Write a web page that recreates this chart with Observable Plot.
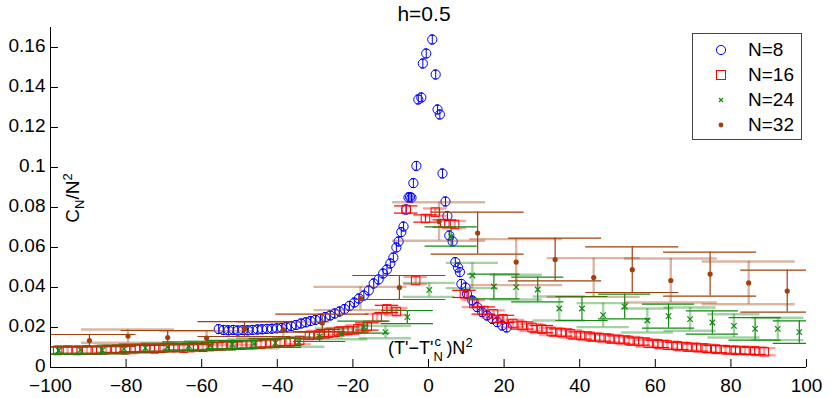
<!DOCTYPE html>
<html>
<head>
<meta charset="utf-8">
<script src="https://cdn.jsdelivr.net/npm/d3@7"></script>
<script src="https://cdn.jsdelivr.net/npm/@observablehq/plot@0.6"></script>
<style>
  html, body { margin: 0; padding: 0; background: #fff; }
  #wrap { position: relative; width: 831px; height: 398px; font-family: "Liberation Sans", Arial, Helvetica, sans-serif; color: #000; }
  #title { position: absolute; left: 0; width: 848px; top: 2px; text-align: center; font-size: 21px; line-height: 24px; }
  #ylab { position: absolute; left: 73px; top: 198px; font-size: 19px; transform: translate(-50%, -50%) rotate(-90deg); white-space: nowrap; }
  #xlab { position: absolute; left: 388px; top: 333px; font-size: 18px; white-space: nowrap; line-height: 20px; }
  #legend { position: absolute; left: 692px; top: 33px; width: 108px; height: 105px; border: 1px solid #444; background: #fff; font-size: 19px; }
  .row { position: absolute; left: 0; height: 24px; line-height: 24px; }
  .row svg { position: absolute; left: 20px; top: 4px; }
  .row span { position: absolute; left: 55px; top: 0; white-space: nowrap; }
  sub, sup { font-size: 13px; }
</style>
</head>
<body>
<div id="wrap">
  <div id="chart"></div>
  <div id="title">h=0.5</div>
  <div id="ylab">C<sub style="vertical-align:-5px">N</sub>/N<sup style="vertical-align:7px">2</sup></div>
  <div id="xlab">(T'−T'<span style="display:inline-block;position:relative;width:13px;height:10px;"><span style="position:absolute;left:1px;top:-12px;font-size:13px;">c</span><span style="position:absolute;left:0;top:3px;font-size:13px;">N</span></span>)N<sup style="vertical-align:7px">2</sup></div>
  <div id="legend"></div>
</div>
<script>
// ---------- data ----------
const seriesNames = ["N=8", "N=16", "N=24", "N=32"];
const seriesColors = ["#0000ff", "#ff0000", "#118a11", "#a0400c"];

const blueX = [-55.5,-54.2,-52.9,-51.6,-50.4,-49.1,-47.8,-46.5,-45.2,-44.0,-42.7,-41.4,-40.1,-38.8,-37.6,-36.3,-35.0,-33.7,-32.4,-31.2,-29.9,-28.6,-27.3,-26.0,-24.8,-23.5,-22.2,-20.9,-19.6,-18.4,-17.1,-15.8,-14.5,-13.2,-12.0,-11.0,-10.1,-9.3,-8.5,-7.9,-7.2,-6.6,-5.9,-5.3,-4.9,-4.5,-4.0,-3.2,-2.7,-1.9,-1.5,-0.6,1.0,1.9,2.4,3.0,3.7,4.5,5.0,5.5,6.4,7.1,7.8,8.3,8.7,9.8,10.2,11.6,12.9,14.2,15.5,16.9,18.2,19.5,20.7];
const blueY = [0.0192,0.0188,0.0186,0.0188,0.0185,0.0187,0.0186,0.0188,0.0190,0.0191,0.0193,0.0194,0.0196,0.0198,0.0202,0.0207,0.0213,0.0220,0.0226,0.0232,0.0238,0.0244,0.0252,0.0260,0.0270,0.0280,0.0292,0.0308,0.0325,0.0345,0.0360,0.0385,0.0420,0.0440,0.0470,0.0490,0.0520,0.0550,0.0600,0.0630,0.0677,0.0705,0.0790,0.0850,0.0852,0.0849,0.0922,0.1008,0.1340,0.1350,0.1520,0.1570,0.1640,0.1465,0.1290,0.1265,0.0970,0.0830,0.0757,0.0660,0.0630,0.0527,0.0500,0.0477,0.0418,0.0400,0.0368,0.0335,0.0302,0.0277,0.0260,0.0243,0.0227,0.0210,0.0200];
const blueErr = 0.0022;

const redX = [-98.1,-95.5,-93.0,-90.4,-87.8,-85.3,-82.7,-80.2,-77.6,-75.0,-72.5,-69.9,-67.4,-64.8,-62.2,-59.7,-57.1,-54.6,-52.0,-49.4,-46.9,-44.3,-41.8,-39.2,-36.6,-34.1,-31.5,-29.0,-26.4,-23.8,-21.3,-18.7,-16.2,-13.6,-11.0,-8.5,-5.9,-3.4,-0.8,1.8,4.3,6.9,9.5,12.0,14.6,17.2,19.7,22.3,24.8,27.4,30.0,32.5,35.1,37.6,40.2,42.8,45.3,47.9,50.4,53.0,55.6,58.1,60.7,63.2,65.8,68.4,70.9,73.5,76.0,78.6,81.2,83.7,86.3,88.8];
const redY = [0.0085,0.0087,0.0085,0.0088,0.0086,0.0090,0.0092,0.0089,0.0094,0.0096,0.0093,0.0098,0.0100,0.0097,0.0103,0.0101,0.0106,0.0108,0.0110,0.0112,0.0115,0.0117,0.0121,0.0125,0.0128,0.0135,0.0160,0.0165,0.0172,0.0180,0.0185,0.0193,0.0205,0.0250,0.0293,0.0280,0.0790,0.0435,0.0745,0.0777,0.0720,0.0715,0.0368,0.0320,0.0285,0.0268,0.0243,0.0220,0.0210,0.0200,0.0192,0.0180,0.0175,0.0168,0.0160,0.0155,0.0150,0.0145,0.0140,0.0135,0.0130,0.0122,0.0118,0.0112,0.0108,0.0103,0.0100,0.0096,0.0092,0.0089,0.0086,0.0085,0.0083,0.0079];
const redErr = 0.0018;

const greenX = [-97.8,-92.1,-86.3,-80.6,-74.9,-69.1,-63.4,-57.7,-51.9,-46.2,-40.5,-34.3,-28.8,-23.0,-17.1,-11.4,-5.6,0.2,6.0,11.6,17.3,23.2,28.9,34.6,40.6,46.2,51.9,57.9,63.5,69.2,75.1,80.8,86.4,92.4,98.1];
const greenY = [0.0085,0.0088,0.0086,0.0093,0.0098,0.0102,0.0108,0.0110,0.0115,0.0118,0.0123,0.0127,0.0155,0.0168,0.0202,0.0177,0.0252,0.0388,0.0655,0.0460,0.0405,0.0402,0.0390,0.0295,0.0295,0.0262,0.0305,0.0235,0.0257,0.0242,0.0225,0.0208,0.0193,0.0193,0.0177];
const greenErr = [0.0018,0.0018,0.0018,0.0019,0.0019,0.0020,0.0020,0.0021,0.0021,0.0022,0.0022,0.0023,0.0025,0.0027,0.0030,0.0031,0.0033,0.0035,0.0048,0.0063,0.0062,0.0062,0.0062,0.0060,0.0060,0.0060,0.0062,0.0060,0.0060,0.0058,0.0058,0.0058,0.0056,0.0056,0.0056];

const brownX = [-89.7,-79.5,-69.0,-58.7,-48.7,-38.4,-28.1,-18.0,-7.7,2.8,13.0,23.2,33.5,43.7,53.9,64.1,74.5,84.7,94.9];
const brownY = [0.0135,0.0157,0.0150,0.0147,0.0192,0.0188,0.0222,0.0345,0.0400,0.0730,0.0672,0.0527,0.0540,0.0450,0.0489,0.0435,0.0467,0.0423,0.0382];
const brownErr = [0.0030,0.0033,0.0035,0.0035,0.0037,0.0040,0.0045,0.0058,0.0060,0.0096,0.0105,0.0115,0.0107,0.0097,0.0114,0.0110,0.0110,0.0107,0.0105];

const xTicks = [-100,-80,-60,-40,-20,0,20,40,60,80,100];
const yTicks = [0,0.02,0.04,0.06,0.08,0.1,0.12,0.14,0.16];

// ---------- build ----------
function rows(xs, ys, es) {
  return xs.map((x, i) => ({x, y: ys[i], e: Array.isArray(es) ? es[i] : es, i}));
}
const blue = rows(blueX, blueY, blueErr);
const red = rows(redX, redY, redErr);
const green = rows(greenX, greenY, greenErr);
const brown = rows(brownX, brownY, brownErr);

function errMarks(data, color, halfW, alternate) {
  const sets = alternate
    ? [[data.filter(d => d.i % 2 === 1), 2.4, 0.38], [data.filter(d => d.i % 2 === 0), 1.2, 1]]
    : [[data, 1, 1]];
  const out = [];
  for (const [dd, sw, op] of sets) {
    const common = {stroke: color, strokeWidth: sw, strokeOpacity: op, clip: true};
    out.push(Plot.ruleX(dd, {x: "x", y1: d => d.y - d.e, y2: d => d.y + d.e, ...common}));
    out.push(Plot.ruleY(dd, {y: d => d.y + d.e, x1: d => d.x - halfW, x2: d => d.x + halfW, ...common}));
    out.push(Plot.ruleY(dd, {y: d => d.y - d.e, x1: d => d.x - halfW, x2: d => d.x + halfW, ...common}));
  }
  return out;
}

const fmtX = d => d < 0 ? "\u2212" + Math.abs(d) : String(d);
const fmtY = d => String(+d.toFixed(2));

const chart = Plot.plot({
  width: 831,
  height: 398,
  marginLeft: 50,
  marginRight: 25,
  marginTop: 27,
  marginBottom: 31,
  style: {fontFamily: '"Liberation Sans", Arial, Helvetica, sans-serif', fontSize: "19px", background: "#fff", color: "#000"},
  x: {domain: [-100, 100], ticks: xTicks},
  y: {domain: [0, 0.17], ticks: yTicks},
  marks: [
    // blue N=8
    ...errMarks(blue, seriesColors[0], 0.5, false),
    Plot.dot(blue, {x: "x", y: "y", r: 4.6, stroke: seriesColors[0], strokeWidth: 1, fill: "none", clip: true}),
    // red N=16
    ...errMarks(red, seriesColors[1], 3.1, true),
    Plot.dot(red, {x: "x", y: "y", symbol: "square", r: 4.8, stroke: seriesColors[1], strokeWidth: 1, fill: "none", clip: true}),
    // green N=24
    ...errMarks(green, seriesColors[2], 6.9, true),
    Plot.dot(green, {x: "x", y: "y", symbol: "times", r: 2.6, stroke: seriesColors[2], strokeWidth: 1.2, clip: true}),
    // brown N=32
    ...errMarks(brown, seriesColors[3], 12.3, true),
    Plot.dot(brown, {x: "x", y: "y", r: 2.6, fill: seriesColors[3], stroke: "none", clip: true}),
    // axes
    Plot.ruleX([-100], {y1: 0, y2: 0.17, stroke: "#000", strokeWidth: 1}),
    Plot.ruleY([0], {x1: -100, x2: 100, stroke: "#000", strokeWidth: 1}),
    Plot.ruleX(xTicks, {x: d => d, y1: 0, y2: 0.004, stroke: "#000"}),
    Plot.ruleY(yTicks, {y: d => d, x1: -100, x2: -97.9, stroke: "#000"}),
    Plot.axisX({ticks: xTicks, tickSize: 0, tickPadding: 11, tickFormat: fmtX, label: null, fontSize: 19}),
    Plot.axisY({ticks: yTicks, tickSize: 0, tickPadding: 5, tickFormat: fmtY, label: null, fontSize: 19, dy: -2})
  ]
});
document.getElementById("chart").appendChild(chart);

// ---------- legend ----------
const legend = document.getElementById("legend");
const rowTops = [4, 29, 54, 79];
const markerSvg = [
  '<svg width="16" height="16"><circle cx="8" cy="8" r="4.6" fill="none" stroke="#0000ff" stroke-width="1"/></svg>',
  '<svg width="16" height="16"><rect x="3.5" y="3.5" width="9" height="9" fill="none" stroke="#ff0000" stroke-width="1"/></svg>',
  '<svg width="16" height="16"><path d="M6,6L10,10M10,6L6,10" stroke="#118a11" stroke-width="1.2"/></svg>',
  '<svg width="16" height="16"><circle cx="8" cy="8" r="2.4" fill="#a0400c"/></svg>'
];
seriesNames.forEach((name, k) => {
  const r = document.createElement("div");
  r.className = "row";
  r.style.top = rowTops[k] + "px";
  r.innerHTML = markerSvg[k] + "<span>" + name + "</span>";
  legend.appendChild(r);
});
</script>
</body>
</html>
